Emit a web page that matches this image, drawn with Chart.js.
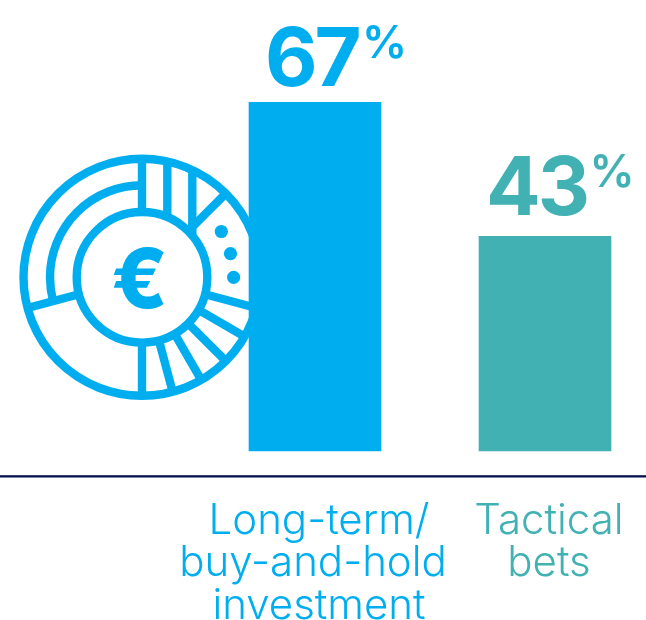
<!DOCTYPE html>
<html><head><meta charset="utf-8">
<style>html,body{margin:0;padding:0;background:#fff;overflow:hidden}#w{position:relative;width:646px;height:620px}</style>
<script src="https://cdn.jsdelivr.net/npm/chart.js@4"></script>
</head><body><div id="w"><canvas id="c" width="646" height="620"></canvas></div>
<script>
const categories = [['Long-term/','buy-and-hold ','investment'],['Tactical','bets']];
const shareValues = [67, 43];
const unitLabel = '%';
const iconSymbol = '€';
const BLUE = '#00AEEF', TEAL = '#41B1B3', NAVY = '#02124F';
const barColors = [BLUE, TEAL];

const decor = {
  id: 'decor',
  beforeDatasetsDraw(chart) {
    const ctx = chart.ctx, cx = 142, cy = 277.3, d2r = Math.PI/180;
    const R = 118.5, M = 92, I = 65.3;
    ctx.save();
    ctx.strokeStyle = BLUE; ctx.fillStyle = BLUE; ctx.lineWidth = 8.4; ctx.lineCap = 'butt';
    const circle = r => { ctx.beginPath(); ctx.arc(cx, cy, r, 0, 2*Math.PI); ctx.stroke(); };
    circle(R); circle(I);
    ctx.beginPath(); ctx.arc(cx, cy, M, -90*d2r, 165*d2r, true); ctx.stroke();
    [15,30,45,60,75,90,165,-90,-45].forEach(a => {
      ctx.beginPath();
      ctx.moveTo(cx + I*Math.cos(a*d2r), cy + I*Math.sin(a*d2r));
      ctx.lineTo(cx + R*Math.cos(a*d2r), cy + R*Math.sin(a*d2r));
      ctx.stroke();
    });
    [25.3, 50.3].forEach(dx => {
      ctx.beginPath();
      ctx.moveTo(cx+dx, cy - Math.sqrt(I*I-dx*dx));
      ctx.lineTo(cx+dx, cy - Math.sqrt(R*R-dx*dx));
      ctx.stroke();
    });
    [-30,-15,0].forEach(a => {
      ctx.beginPath();
      ctx.arc(cx + 91.6*Math.cos(a*d2r), cy + 91.6*Math.sin(a*d2r), 6.6, 0, 2*Math.PI);
      ctx.fill();
    });
    ctx.font = '800 82px Inter';
    ctx.textAlign = 'center'; ctx.textBaseline = 'alphabetic';
    ctx.fillText(iconSymbol, 139.5, 308);
    ctx.restore();
  },
  afterDraw(chart) {
    const ctx = chart.ctx, y = chart.scales.y.getPixelForValue(0);
    ctx.save();
    ctx.fillStyle = NAVY;
    ctx.fillRect(0, y-0.8, chart.width, 2.3);
    const meta = chart.getDatasetMeta(0);
    const offs = [[-50, 16, 47],[-59, 21, 44.5]];
    meta.data.forEach((bar,i) => {
      const x = bar.x + offs[i][0], base = bar.y - offs[i][1];
      ctx.fillStyle = barColors[i];
      ctx.textAlign = 'left'; ctx.textBaseline = 'alphabetic';
      ctx.font = '700 81px Inter';
      ctx.letterSpacing = '-3px';
      ctx.fillText(String(shareValues[i]), x, base);
      ctx.letterSpacing = '0px';
      ctx.font = '600 45px Inter';
      ctx.fillText(unitLabel, bar.x + offs[i][2], base - 28);
    });
    ctx.restore();
  }
};

new Chart(document.getElementById('c'), {
  type: 'bar',
  data: { labels: categories, datasets: [{
    data: shareValues, backgroundColor: barColors, base: 4.5,
    barThickness: 132, borderWidth: 0, clip: false
  }]},
  plugins: [decor],
  options: {
    responsive: false, animation: false, devicePixelRatio: 1,
    layout: { padding: { left: 315, right: 101, top: 2, bottom: 0 } },
    plugins: { legend: {display:false}, tooltip: {enabled:false}, title:{display:false} },
    scales: {
      x: {
        type: 'category', offset: false,
        grid: { display:false, drawTicks:false }, border: { display:false },
        afterFit(s){ s.height = 144; },
        ticks: {
          autoSkip:false, maxRotation:0, minRotation:0, padding: 24, labelOffset: 4,
          color: barColors,
          font: { family:'Inter', weight:'300', size:42, lineHeight:1.012 }
        }
      },
      y: { display:false, min:0, max:85 }
    }
  }
});
</script></body></html>
